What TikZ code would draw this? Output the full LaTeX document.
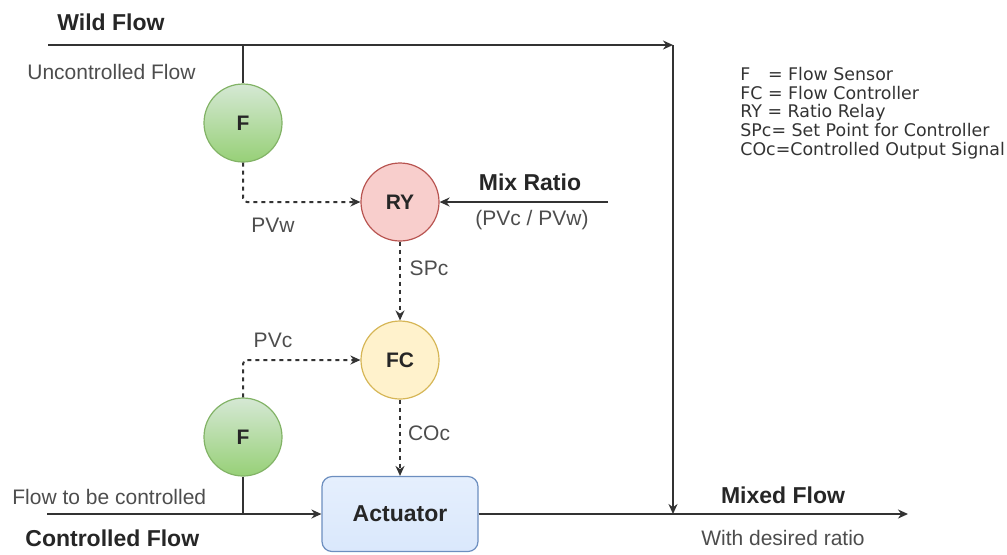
\documentclass[tikz,border=0pt]{standalone}
\usepackage{fontspec}
\setmainfont{Liberation Sans}
\newfontfamily\legendfont{DejaVu Sans}
\usetikzlibrary{arrows.meta}
\definecolor{sensorfill}{HTML}{D5E8D4}
\definecolor{sensordark}{HTML}{97D077}
\definecolor{sensorline}{HTML}{82B366}
\definecolor{relayfill}{HTML}{F8CECC}
\definecolor{relayline}{HTML}{B85450}
\definecolor{ctrlfill}{HTML}{FFF2CC}
\definecolor{ctrlline}{HTML}{D6B656}
\definecolor{actfill}{HTML}{DAE8FC}
\definecolor{actline}{HTML}{6C8EBF}
\definecolor{wire}{HTML}{333333}
\definecolor{labelgray}{HTML}{4D4D4D}

\tikzset{
  unit/.style={circle,draw,line width=0.6pt,minimum size=39pt,inner sep=0pt,
    font=\fontsize{10.5}{12}\selectfont\bfseries,text=black!85},
  sensor/.style={unit,draw=sensorline,top color=sensorfill,bottom color=sensordark},
  relay/.style={unit,draw=relayline,fill=relayfill},
  controller/.style={unit,draw=ctrlline,fill=ctrlfill},
  actbox/.style={rectangle,rounded corners=5pt,draw=actline,line width=0.6pt,
    top color=actfill!70,bottom color=actfill,minimum width=78pt,minimum height=37.5pt,
    font=\fontsize{11.5}{13}\selectfont\bfseries,text=black!85},
  pipe/.style={draw=wire,line width=1pt},
  flow/.style={pipe,-{Stealth[length=5pt,width=4.5pt]}},
  signal/.style={flow,dash pattern=on 2pt off 2pt,rounded corners=2pt},
  plain/.style={font=\fontsize{10.5}{12}\selectfont,text=labelgray,inner sep=0pt},
  title/.style={font=\fontsize{11.5}{13}\selectfont\bfseries,text=black!85,inner sep=0pt},
}

\begin{document}
\begin{tikzpicture}[x=0.5pt,y=-0.5pt]
  \useasboundingbox (0,0) rectangle (1007,554);

  % units
  \node[sensor] (fw) at (243,123) {F};
  \node[relay] (ry) at (400,202) {RY};
  \node[controller] (fc) at (400,360) {FC};
  \node[sensor] (fcs) at (243,437) {F};
  \node[actbox] (act) at (400,514) {Actuator};

  % free ends of the flow lines
  \coordinate (wildin) at (48,45);
  \coordinate (junction) at (673,45);
  \coordinate (ctrlin) at (47,514);
  \coordinate (mixout) at (908,514);
  \coordinate (ratioin) at (608,202);

  % process lines
  \draw[flow] (wildin) -- (junction);
  \draw[flow] (junction) -- (junction |- act.east);
  \draw[pipe] (fw.north) -- (fw.north |- wildin);
  \draw[flow] (ctrlin) -- (act.west);
  \draw[pipe] (fcs.south) -- (fcs.south |- ctrlin);
  \draw[flow] (act.east) -- (mixout);
  \draw[flow] (ratioin) -- (ry.east);

  % signal lines
  \draw[signal] (fw.south) |- (ry.west);
  \draw[signal] (ry.south) -- (fc.north);
  \draw[signal] (fcs.north) |- (fc.west);
  \draw[signal] (fc.south) -- (act.north);

  % labels
  \node[title,anchor=west] (wildlbl) at (57,22) {Wild Flow};
  \node[plain,anchor=west] (unclbl) at (27,72) {Uncontrolled Flow};
  \node[plain] (pvwlbl) at (273,225) {PVw};
  \node[title] (mixlbl) at (530,182) {Mix Ratio};
  \node[plain] (ratiolbl) at (532,220) {(PVc / PVw)};
  \node[plain] (spclbl) at (429,268) {SPc};
  \node[plain] (pvclbl) at (273,340) {PVc};
  \node[plain] (coclbl) at (429,433) {COc};
  \node[plain,anchor=west] (tbclbl) at (12,497) {Flow to be controlled};
  \node[title,anchor=west] (ctrllbl) at (25,538) {Controlled Flow};
  \node[title] (mixedlbl) at (783,495) {Mixed Flow};
  \node[plain] (desiredlbl) at (783,538) {With desired ratio};

  % legend
  \node[anchor=north west,align=left,inner sep=0pt,text=wire,
    font=\legendfont\fontsize{8.7}{9.3}\selectfont] (legend) at (740,67)
    {F\phantom{C} = Flow Sensor\\
     FC = Flow Controller\\
     RY = Ratio Relay\\
     SPc= Set Point for Controller\\
     COc=Controlled Output Signal};
\end{tikzpicture}
\end{document}
